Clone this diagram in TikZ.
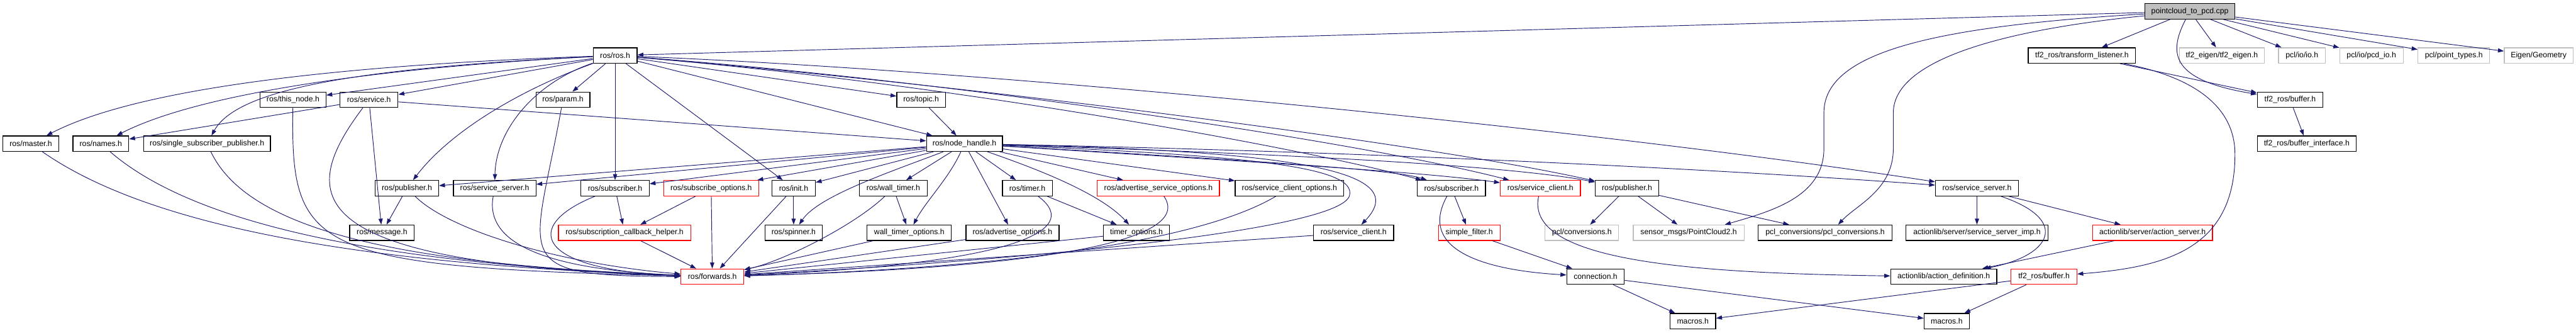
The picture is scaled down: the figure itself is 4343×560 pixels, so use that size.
\documentclass[tikz,border=0pt]{standalone}
\usepackage{fontspec}
\setmainfont{Liberation Sans}
\usetikzlibrary{arrows.meta}
\definecolor{edgec}{HTML}{191970}
\definecolor{gbord}{HTML}{BFBFBF}
\definecolor{rbord}{HTML}{FF0000}
\definecolor{pfill}{HTML}{BFBFBF}
\begin{document}
\begin{tikzpicture}[x=1pt,y=-1pt,
  box/.style={draw=black, line width=1.3pt, fill=white, minimum height=26pt, inner sep=0pt,
    font=\fontsize{13pt}{15pt}\selectfont},
  rbox/.style={box, draw=rbord},
  gbox/.style={box, draw=gbord},
  edge/.style={draw=edgec, line width=1pt, -{Triangle[length=10pt,width=7pt]}}]
\fill[white] (0,0) rectangle (4343,560);
\useasboundingbox (0,0) rectangle (4343,560);
% row 0
\node[box, fill=pfill, minimum width=152pt] (P) at (3692,19) {pointcloud\_to\_pcd.cpp};
% row 1
\node[box, minimum width=74pt] (R) at (1037,93.5) {ros/ros.h};
\node[box, minimum width=181pt] (TL) at (3510,93.5) {tf2\_ros/transform\_listener.h};
\node[gbox, minimum width=143pt] (TE) at (3746,93.5) {tf2\_eigen/tf2\_eigen.h};
\node[gbox, minimum width=79pt] (IO) at (3881,93.5) {pcl/io/io.h};
\node[gbox, minimum width=107pt] (PCD) at (3998,93.5) {pcl/io/pcd\_io.h};
\node[gbox, minimum width=121pt] (PT) at (4137,93.5) {pcl/point\_types.h};
\node[gbox, minimum width=116pt] (EG) at (4280,93.5) {Eigen/Geometry};
% row 2
\node[box, minimum width=111pt] (TN) at (494,168) {ros/this\_node.h};
\node[box, minimum width=98pt] (SV) at (622,168) {ros/service.h};
\node[box, minimum width=91pt] (PA) at (949,168) {ros/param.h};
\node[box, minimum width=82pt] (TP) at (1553,168) {ros/topic.h};
\node[box, minimum width=111pt] (TB) at (3861,168) {tf2\_ros/buffer.h};
% row 3
\node[box, minimum width=94pt] (MA) at (52,242) {ros/master.h};
\node[box, minimum width=94pt] (NA) at (170,242) {ros/names.h};
\node[box, minimum width=214pt] (SSP) at (349,242) {ros/single\_subscriber\_publisher.h};
\node[box, minimum width=128pt] (NH) at (1626,242) {ros/node\_handle.h};
\node[box, minimum width=167pt] (TBI) at (3889,242) {tf2\_ros/buffer\_interface.h};
% row 4
\node[box, minimum width=107pt] (PubA) at (686,317) {ros/publisher.h};
\node[box, minimum width=139pt] (SSA) at (834,317) {ros/service\_server.h};
\node[box, minimum width=115pt] (SubA) at (1037,317) {ros/subscriber.h};
\node[rbox, minimum width=160pt] (SO) at (1199,317) {ros/subscribe\_options.h};
\node[box, minimum width=73pt] (IN) at (1338,317) {ros/init.h};
\node[box, minimum width=115pt] (WT) at (1506,317) {ros/wall\_timer.h};
\node[box, minimum width=84pt] (TM) at (1732,317) {ros/timer.h};
\node[rbox, minimum width=206pt] (ASO) at (1953,317) {ros/advertise\_service\_options.h};
\node[box, minimum width=183pt] (SCO) at (2174,317) {ros/service\_client\_options.h};
\node[box, minimum width=115pt] (SubB) at (2447,317) {ros/subscriber.h};
\node[rbox, minimum width=135pt] (SCB) at (2597,317) {ros/service\_client.h};
\node[box, minimum width=107pt] (PubB) at (2743,317) {ros/publisher.h};
\node[box, minimum width=140pt] (SSB) at (3333,317) {ros/service\_server.h};
% row 5
\node[box, minimum width=109pt] (MS) at (644,392) {ros/message.h};
\node[rbox, minimum width=223pt] (SCH) at (1053,392) {ros/subscription\_callback\_helper.h};
\node[box, minimum width=97pt] (SP) at (1338,392) {ros/spinner.h};
\node[box, minimum width=142pt] (WTO) at (1533,392) {wall\_timer\_options.h};
\node[box, minimum width=157pt] (AO) at (1707,392) {ros/advertise\_options.h};
\node[box, minimum width=111pt] (TO) at (1916,392) {timer\_options.h};
\node[box, minimum width=135pt] (SC) at (2282,392) {ros/service\_client.h};
\node[rbox, minimum width=104pt] (SF) at (2477,392) {simple\_filter.h};
\node[gbox, minimum width=124pt] (PCV) at (2667,392) {pcl/conversions.h};
\node[gbox, minimum width=187pt] (PC2) at (2847,392) {sensor\_msgs/PointCloud2.h};
\node[box, minimum width=226pt] (PCLC) at (3077,392) {pcl\_conversions/pcl\_conversions.h};
\node[box, minimum width=240pt] (SSI) at (3333,392) {actionlib/server/service\_server\_imp.h};
\node[rbox, minimum width=202pt] (AS) at (3629,392) {actionlib/server/action\_server.h};
% row 6
\node[rbox, minimum width=106pt] (FW) at (1201,466) {ros/forwards.h};
\node[box, minimum width=97pt] (CN) at (2690,466) {connection.h};
\node[box, minimum width=179pt] (AD) at (3277,466) {actionlib/action\_definition.h};
\node[rbox, minimum width=111pt] (TBR) at (3446,466) {tf2\_ros/buffer.h};
% row 7
\node[box, minimum width=77pt] (MA1) at (2854,541) {macros.h};
\node[box, minimum width=76pt] (MA2) at (3282,541) {macros.h};

% edges from P
\draw[edge] (P) -- (R);
\draw[edge] (P) -- (TL);
\draw[edge] (P) -- (TE);
\draw[edge] (P) -- (IO);
\draw[edge] (P) -- (PCD);
\draw[edge] (P) -- (PT);
\draw[edge] (P) -- (EG);
\draw[edge] (P) .. controls (3655,90) and (3660,135) .. (TB);
\draw[edge] (P) .. controls (3250,45) and (3075,90) .. (3075,190) -- (3075,250) .. controls (3075,330) and (2990,355) .. ([xshift=61pt]PC2.north);
\draw[edge] (P) .. controls (3380,50) and (3192,100) .. (3192,190) -- (3192,250) .. controls (3192,320) and (3130,345) .. ([xshift=22pt]PCLC.north);
\draw[edge] (TL) -- (TB);
\draw[edge] (TL) .. controls (3700,130) and (3768,180) .. (3768,260) .. controls (3768,420) and (3650,450) .. (TBR);
\draw[edge] (TB) -- (TBI);

% edges from R
\draw[edge] (R) .. controls (560,110) and (230,150) .. (MA);
\draw[edge] (R) .. controls (620,115) and (330,160) .. (NA);
\draw[edge] (R) .. controls (600,115) and (400,150) .. (SSP);
\draw[edge] (R) -- (TN);
\draw[edge] (R) -- (SV);
\draw[edge] (R) -- (PA);
\draw[edge] (R) .. controls (880,150) and (760,220) .. (PubA);
\draw[edge] (R) .. controls (900,140) and (836,220) .. (SSA);
\draw[edge] (R) -- (SubA);
\draw[edge] (R) -- (IN);
\draw[edge] (R) -- (TP);
\draw[edge] (R) -- (NH);
\draw[edge] (R) .. controls (1700,120) and (2700,220) .. (SSB);
\draw[edge] (R) .. controls (1600,140) and (2400,240) .. (PubB);
\draw[edge] (R) .. controls (1600,140) and (2200,250) .. (SubB);
\draw[edge] (R) .. controls (1600,135) and (2300,240) .. (SCB);

% row 2
\draw[edge] (SV) -- (NH);
\draw[edge] (SV) -- (NA);
\draw[edge] (SV) -- (MS);
\draw[edge] (TP) -- (NH);

% edges from NH
\draw[edge] (NH) .. controls (2100,270) and (2350,285) .. (SubB);
\draw[edge] (NH) .. controls (2150,275) and (2400,290) .. (SCB);
\draw[edge] (NH) .. controls (2200,260) and (2550,280) .. (PubB);
\draw[edge] (NH) .. controls (2300,255) and (2900,285) .. (SSB);
\draw[edge] (NH) -- (PubA);
\draw[edge] (NH) -- (SSA);
\draw[edge] (NH) -- (SubA);
\draw[edge] (NH) -- (SO);
\draw[edge] (NH) -- (IN);
\draw[edge] (NH) .. controls (1500,290) and (1380,330) .. (SP);
\draw[edge] (NH) -- (WT);
\draw[edge] (NH) .. controls (1600,300) and (1560,340) .. (WTO);
\draw[edge] (NH) -- (AO);
\draw[edge] (NH) -- (TM);
\draw[edge] (NH) .. controls (1720,275) and (1850,320) .. (TO);
\draw[edge] (NH) -- (ASO);
\draw[edge] (NH) -- (SCO);
\draw[edge] (NH) .. controls (2200,255) and (2380,290) .. (SC);
\draw[edge] (NH) .. controls (2100,262) and (2290,280) .. (2275,330) .. controls (2255,390) and (1700,440) .. (FW);

% into forwards from left
\draw[edge] (MA) .. controls (250,380) and (600,445) .. (FW);
\draw[edge] (NA) .. controls (330,380) and (650,445) .. (FW);
\draw[edge] (SSP) .. controls (420,390) and (680,445) .. (FW);
\draw[edge] (TN) .. controls (490,420) and (520,450) .. (FW);
\draw[edge] (SV) .. controls (500,330) and (500,445) .. (FW);
\draw[edge] (PubA) .. controls (760,390) and (950,445) .. (FW);
\draw[edge] (SSA) .. controls (815,420) and (950,455) .. (FW);
\draw[edge] (PA) .. controls (900,440) and (850,465) .. (FW);
\draw[edge] (SubA) .. controls (880,380) and (900,455) .. (FW);
\draw[edge] (SCH) -- (FW);
\draw[edge] (SO) -- (FW);
\draw[edge] (IN) -- (FW);
% into forwards from right
\draw[edge] (WT) .. controls (1440,380) and (1320,440) .. (FW);
\draw[edge] (WTO) -- (FW);
\draw[edge] (AO) -- (FW);
\draw[edge] (TO) -- (FW);
\draw[edge] (TM) .. controls (1830,390) and (1700,445) .. (FW);
\draw[edge] (ASO) .. controls (2010,400) and (1800,450) .. (FW);
\draw[edge] (SCO) .. controls (2000,420) and (1600,455) .. (FW);
\draw[edge] (SC) -- (FW);

% other row 4 edges
\draw[edge] (PubA) -- (MS);
\draw[edge] (SubA) -- (SCH);
\draw[edge] (SO) -- (SCH);
\draw[edge] (IN) -- (SP);
\draw[edge] (WT) -- (WTO);
\draw[edge] (TM) -- (TO);
\draw[edge] (SubB) -- (SF);
\draw[edge] (SubB) .. controls (2390,420) and (2500,455) .. (CN);
\draw[edge] (SF) -- (CN);
\draw[edge] (SCB) .. controls (2570,440) and (2850,460) .. (AD);
\draw[edge] (PubB) -- (PCV);
\draw[edge] (PubB) -- (PC2);
\draw[edge] (PubB) -- (PCLC);
\draw[edge] (SSB) -- (SSI);
\draw[edge] (SSB) -- (AS);
\draw[edge] (SSB) .. controls (3490,370) and (3460,430) .. (AD);
\draw[edge] (AS) -- (AD);
\draw[edge] (CN) -- (MA1);
\draw[edge] (CN) -- (MA2);
\draw[edge] (TBR) -- (MA2);
\draw[edge] (TBR) -- (MA1);
\end{tikzpicture}
\end{document}
